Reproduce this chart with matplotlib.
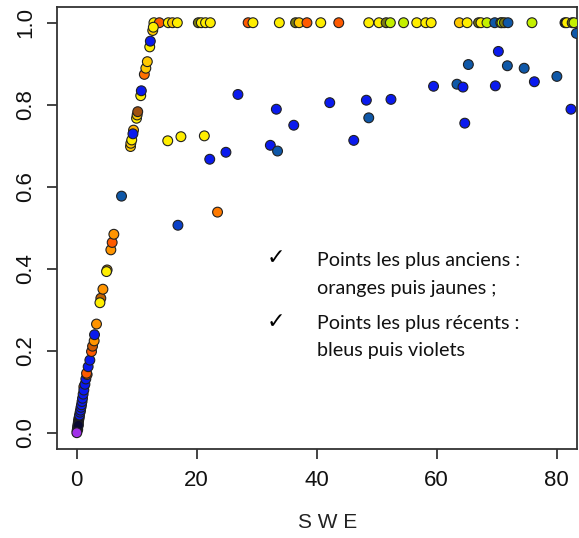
import matplotlib
matplotlib.use('Agg')
from matplotlib import pyplot as plt

plt.rcParams['font.family'] = ['Liberation Sans', 'DejaVu Sans']

# colours used for the points (older -> newer: orange, yellow, green, blue, violet)
RED_OR = '#ff5a00'
ORANGE = '#ff9400'
GOLD = '#ffc800'
YELLOW = '#ffee00'
LIME = '#c4f000'
OLIVE = '#7c7c10'
STEEL = '#0f58a8'
BLUE = '#0a1aee'
DARK = '#0a0a30'
VIOLET = '#a030e8'

# points near the origin and along the rising part of the curve
curve_swe = [0.10, 0.15, 0.20, 0.25, 0.30, 0.35, 0.40, 0.45, 0.20, 0.30,
             0.50, 0.60, 0.67, 0.75, 0.83, 0.92, 1.00, 1.10, 1.22, 1.22,
             1.40, 1.55, 1.77, 1.67, 1.94, 2.22, 2.50, 2.67, 2.94, 3.00,
             3.33, 4.05, 3.90, 4.40, 5.10, 5.00, 5.72, 5.94, 6.22, 7.50,
             9.00, 9.05, 9.20, 9.50, 9.40, 10.0, 10.1, 10.2, 10.7, 10.8,
             11.3, 11.55, 11.8, 12.2, 12.3, 12.7, 12.8, 0.05]
curve_frac = [0.005, 0.010, 0.015, 0.020, 0.025, 0.030, 0.034, 0.038, 0.008, 0.018,
              0.043, 0.050, 0.055, 0.062, 0.068, 0.076, 0.084, 0.094, 0.112, 0.104,
              0.118, 0.131, 0.142, 0.145, 0.161, 0.177, 0.198, 0.211, 0.224, 0.239,
              0.265, 0.328, 0.317, 0.350, 0.397, 0.393, 0.446, 0.464, 0.484, 0.577,
              0.698, 0.706, 0.714, 0.738, 0.729, 0.767, 0.775, 0.783, 0.822, 0.834,
              0.874, 0.889, 0.905, 0.941, 0.955, 0.981, 0.989, 0.000]
curve_col = [DARK, DARK, DARK, DARK, DARK, DARK, DARK, DARK, DARK, DARK,
             BLUE, BLUE, BLUE, BLUE, BLUE, BLUE, BLUE, BLUE, RED_OR, BLUE,
             BLUE, BLUE, RED_OR, RED_OR, BLUE, BLUE, RED_OR, '#d05a00', ORANGE, BLUE,
             ORANGE, '#c06000', YELLOW, ORANGE, '#d09000', YELLOW, ORANGE, RED_OR, ORANGE, STEEL,
             GOLD, GOLD, YELLOW, '#ffb000', BLUE, YELLOW, GOLD, '#a05010', YELLOW, BLUE,
             '#ff7000', GOLD, GOLD, YELLOW, BLUE, GOLD, YELLOW, VIOLET]

# points on the plateau (fraction = 1)
top_swe = [12.9, 13.8, 15.3, 16.0, 16.8, 20.3, 20.8, 21.5, 22.3, 28.6,
           29.4, 33.8, 36.5, 37.1, 38.4, 40.7, 43.7, 48.7, 50.4, 51.6,
           52.3, 54.5, 56.7, 58.2, 59.1, 63.8, 65.1, 67.0, 67.4, 68.4,
           69.7, 70.7, 70.9, 71.3, 71.9, 75.9, 81.4, 81.7, 82.6, 82.9]
top_col = [YELLOW, RED_OR, YELLOW, GOLD, YELLOW, OLIVE, YELLOW, YELLOW, YELLOW, RED_OR,
           YELLOW, YELLOW, OLIVE, GOLD, RED_OR, YELLOW, RED_OR, YELLOW, YELLOW, OLIVE,
           LIME, LIME, YELLOW, YELLOW, YELLOW, GOLD, YELLOW, OLIVE, YELLOW, LIME,
           STEEL, OLIVE, LIME, OLIVE, STEEL, LIME, DARK, YELLOW, OLIVE, LIME]

# scattered points below the plateau
mid_swe = [15.2, 17.4, 21.3, 16.9, 23.5, 22.2, 24.9, 26.9, 33.3, 32.3,
           33.5, 36.2, 42.2, 46.2, 48.3, 48.7, 52.4, 59.5, 63.4, 64.4,
           64.7, 65.3, 69.8, 70.3, 71.8, 74.6, 76.3, 80.05, 82.4, 83.3]
mid_frac = [0.712, 0.722, 0.724, 0.506, 0.538, 0.667, 0.684, 0.825, 0.789, 0.701,
            0.687, 0.750, 0.805, 0.713, 0.811, 0.768, 0.813, 0.845, 0.850, 0.843,
            0.755, 0.898, 0.846, 0.930, 0.895, 0.889, 0.856, 0.869, 0.789, 0.974]
mid_col = [YELLOW, YELLOW, YELLOW, '#0a40c8', '#ff7a00', BLUE, BLUE, BLUE, BLUE, BLUE,
           STEEL, BLUE, BLUE, BLUE, BLUE, STEEL, BLUE, BLUE, STEEL, BLUE,
           BLUE, STEEL, BLUE, BLUE, STEEL, STEEL, BLUE, STEEL, BLUE, STEEL]

fig = plt.figure(figsize=(5.79, 5.38), dpi=100)
ax = fig.add_axes([0.099, 0.166, 0.8975, 0.8215])

pt_style = dict(s=50, edgecolors='#202020', linewidths=0.8, zorder=3)
ax.scatter(mid_swe, mid_frac, c=mid_col, **pt_style)
ax.scatter(top_swe, [1.0] * len(top_swe), c=top_col, **pt_style)
ax.scatter(curve_swe, curve_frac, c=curve_col, **pt_style)

ax.set_xlim(-3.2, 83.4)
ax.set_ylim(-0.039, 1.039)
ax.set_xticks([0, 20, 40, 60, 80])
ax.set_yticks([0.0, 0.2, 0.4, 0.6, 0.8, 1.0])
ax.set_yticklabels(['0.0', '0.2', '0.4', '0.6', '0.8', '1.0'], rotation=90, va='center')
ax.tick_params(direction='out', length=7, width=1.1, pad=8, labelsize=16,
               colors='#111111')
for sp in ax.spines.values():
    sp.set_linewidth(1.3)
    sp.set_color('#333333')

fig.text(328 / 579, 1 - 522 / 538, 'S W E', ha='center', va='center',
         fontsize=15, color='#222222')

# legend-like note
W, H = 579.0, 538.0
for py in [258, 322]:
    fig.text(276 / W, 1 - py / H, '\u2713', ha='center', va='center',
             fontsize=16, family='DejaVu Sans', fontweight='bold')
note_lines = ['Points les plus anciens :', 'oranges puis jaunes ;',
              'Points les plus r\u00e9cents :', 'bleus puis violets']
for line, py in zip(note_lines, [266, 294, 329, 356]):
    fig.text(317 / W, 1 - py / H, line, ha='left', va='baseline',
             fontsize=14.2, family='Lato', color='#111111')

fig.savefig('out.png', dpi=100)
